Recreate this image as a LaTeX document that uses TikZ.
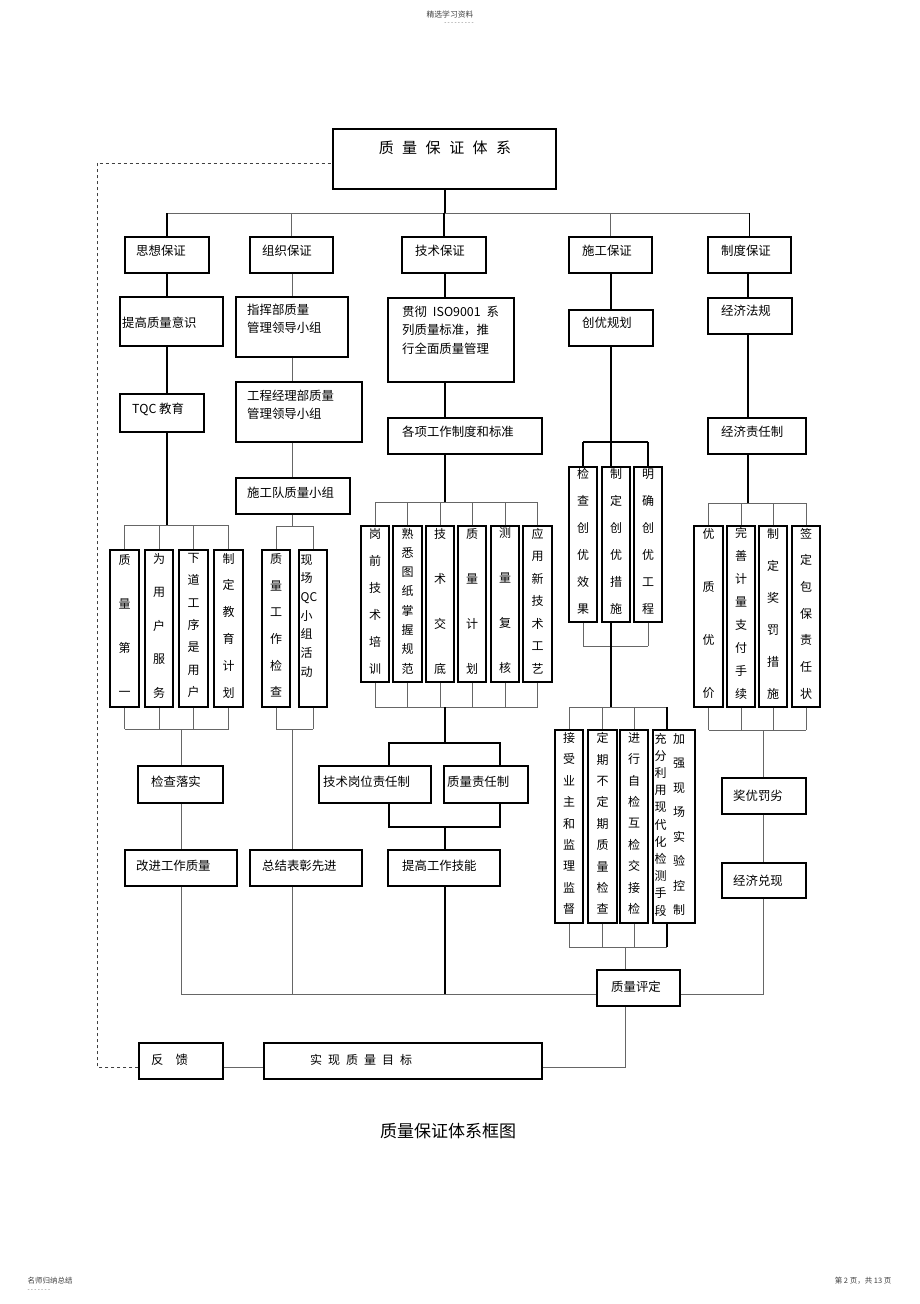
\documentclass[tikz,border=0pt]{standalone}
\usepackage{fontspec}
\setmainfont{Noto Sans CJK SC}
\newcommand\hnode[8]{%
  \node[box,minimum width={#4-#2},minimum height={#5-#3}] (#1) at ({(#2+#4)/2},{(#3+#5)/2}) {};
  \node[txt] (#1-t) at (#6,#7) {#8};}
\newcommand\vnode[7]{%
  \node[box,minimum width={#4-#2},minimum height={#5-#3}] (#1) at ({(#2+#4)/2},{(#3+#5)/2}) {};
  \node[vtxt,font=\fontsize{12}{#6}\selectfont] (#1-t) at ({(#2+#4)/2},{(#3+#5)/2-3}) {#7};}
\newcommand\gap[1]{\hspace{#1pt}}

\begin{document}
\begin{tikzpicture}[x=1pt,y=-1pt,
  box/.style={draw,line width=1.1pt,inner sep=0pt},
  txt/.style={anchor=west,inner sep=0pt,align=left,font=\fontsize{12.4}{18.5}\selectfont},
  vtxt/.style={inner sep=0pt,align=center},
  link/.style={draw=black!60,line width=1pt},
  trunk/.style={draw=black,line width=1.6pt},
  fbk/.style={dashed,line width=0.8pt,draw=black!75}]
\fill[white] (0,0) rectangle (920,1304);

\node[font=\fontsize{7.8}{9}\selectfont,text=black!75] (hd) at (450,15) {精选学习资料};
\node[font=\fontsize{6}{7}\selectfont,text=black!60] (hd-d) at (459,24) {- - - - - - - - -};
\node[font=\fontsize{7.5}{9}\selectfont,text=black!75,anchor=west] (ft1) at (24,1281) {名师归纳总结};
\node[font=\fontsize{6}{7}\selectfont,text=black!60,anchor=west] (ft1-d) at (24,1291) {- - - - - - -};
\node[font=\fontsize{7.5}{9}\selectfont,text=black!75,anchor=east] (ft2) at (895,1281) {第 2 页，共 13 页};

\node[box,minimum width=223,minimum height=60] (sys) at (444.5,159) {};
\node[font=\fontsize{15}{18}\selectfont] (sys-t) at (445,148) {质\gap{8.5}量\gap{8.5}保\gap{8.5}证\gap{8.5}体\gap{8.5}系};

\hnode{sx}{125}{237}{209}{273}{136}{251}{思想保证}
\hnode{zz}{250}{237}{333}{273}{262}{251}{组织保证}
\hnode{js}{402}{237}{486}{273}{415}{251}{技术保证}
\hnode{sg}{569}{237}{652}{273}{582}{251}{施工保证}
\hnode{zd}{708}{237}{791}{273}{721}{251}{制度保证}

\hnode{tg}{120}{297}{223}{346}{122}{323}{提高质量意识}
\hnode{tqc}{120}{394}{204}{432}{132}{409}{TQC 教育}
\vnode{q1}{110}{550}{139}{707}{44}{质\\量\\第\\一}
\vnode{q2}{145}{550}{173}{707}{33.5}{为\\用\\户\\服\\务}
\vnode{q3}{179}{550}{208}{707}{22.3}{下\\道\\工\\序\\是\\用\\户}
\vnode{q4}{214}{550}{243}{707}{26.8}{制\\定\\教\\育\\计\\划}
\hnode{jc}{138}{766}{223}{803}{151}{782}{检查落实}
\hnode{gj}{125}{850}{237}{886}{136}{866}{改进工作质量}

\hnode{zh}{236}{297}{348}{357}{247}{319}{指挥部质量\\管理领导小组}
\hnode{gc}{236}{382}{362}{442}{247}{405}{工程经理部质量\\管理领导小组}
\hnode{sd}{236}{478}{350}{514}{247}{493}{施工队质量小组}
\vnode{r1}{262}{550}{290}{707}{26.6}{质\\量\\工\\作\\检\\查}
\node[box,minimum width=28,minimum height=157] (r2) at (313,628.5) {};
\node[txt,font=\fontsize{12}{18.7}\selectfont] (r2-t) at (300.5,616) {现\\场\\QC\\小\\组\\活\\动};
\hnode{zj}{250}{850}{362}{886}{262}{866}{总结表彰先进}

\hnode{iso}{388}{298}{514}{382}{402}{330}{贯彻\gap{6}ISO9001\gap{6}系\\列质量标准，推\\行全面质量管理}
\hnode{gx}{388}{418}{542}{454}{402}{432}{各项工作制度和标准}
\vnode{s1}{361}{526}{389}{682}{27}{岗\\前\\技\\术\\培\\训}
\vnode{s2}{393}{526}{422}{682}{19.3}{熟\\悉\\图\\纸\\掌\\握\\规\\范}
\vnode{s3}{426}{526}{454}{682}{45}{技\\术\\交\\底}
\vnode{s4}{458}{526}{486}{682}{45}{质\\量\\计\\划}
\vnode{s5}{491}{526}{519}{682}{45}{测\\量\\复\\核}
\vnode{s6}{523}{526}{552}{682}{22.5}{应\\用\\新\\技\\术\\工\\艺}
\hnode{jg}{319}{766}{431}{803}{323}{782}{技术岗位责任制}
\hnode{zr}{444}{766}{528}{803}{447}{782}{质量责任制}
\hnode{tj}{388}{850}{500}{886}{402}{866}{提高工作技能}

\hnode{cy}{569}{310}{653}{346}{582}{323}{创优规划}
\vnode{t1}{569}{467}{597}{622}{27}{检\\查\\创\\优\\效\\果}
\vnode{t2}{602}{467}{630}{622}{27}{制\\定\\创\\优\\措\\施}
\vnode{t3}{634}{467}{662}{622}{27}{明\\确\\创\\优\\工\\程}
\vnode{u1}{555}{730}{583}{923}{21.4}{接\\受\\业\\主\\和\\监\\理\\监\\督}
\vnode{u2}{588}{730}{617}{923}{21.4}{定\\期\\不\\定\\期\\质\\量\\检\\查}
\vnode{u3}{620}{730}{648}{923}{21.4}{进\\行\\自\\检\\互\\检\\交\\接\\检}
\node[box,minimum width=42,minimum height=193] (u4) at (674,826.5) {};
\node[vtxt,font=\fontsize{12}{17.2}\selectfont] (u4-l) at (660.5,824.5) {充\\分\\利\\用\\现\\代\\化\\检\\测\\手\\段};
\node[vtxt,font=\fontsize{12}{24.5}\selectfont] (u4-r) at (679,824.5) {加\\强\\现\\场\\实\\验\\控\\制};
\hnode{pd}{597}{970}{680}{1006}{611}{987}{质量评定}

\hnode{jf}{708}{298}{792}{334}{721}{311}{经济法规}
\hnode{jz}{708}{418}{806}{454}{721}{432}{经济责任制}
\vnode{v1}{694}{526}{723}{707}{53.3}{优\\质\\优\\价}
\vnode{v2}{727}{526}{755}{707}{22.9}{完\\善\\计\\量\\支\\付\\手\\续}
\vnode{v3}{759}{526}{787}{707}{32}{制\\定\\奖\\罚\\措\\施}
\vnode{v4}{792}{526}{820}{707}{26.7}{签\\定\\包\\保\\责\\任\\状}
\hnode{jy}{722}{778}{806}{814}{733}{796}{奖优罚劣}
\hnode{jd}{722}{863}{806}{898}{733}{881}{经济兑现}

\hnode{fk}{139}{1043}{223}{1079}{151}{1060}{反\gap{12}馈}
\hnode{mb}{264}{1043}{542}{1079}{310}{1060}{\fontsize{12}{14}\selectfont 实\gap{6}现\gap{6}质\gap{6}量\gap{6}目\gap{6}标}
\node[font=\fontsize{17}{20}\selectfont] (cap) at (448,1131) {质量保证体系框图};

\coordinate (b0) at (445,213);
\draw[trunk] (b0 |- sys.south) -- (b0);
\draw[link] (sx.north |- b0) -- (zd.north |- b0);
\foreach \n/\s in {sx/trunk,zz/link,js/trunk,sg/link,zd/trunk}
  \draw[\s] (\n.north) -- (\n.north |- b0);
\coordinate (e0) at ([yshift=-6pt]pd.west);
\coordinate (e1) at ([yshift=-6pt]pd.east);

\coordinate (c1) at (167,525);
\coordinate (d1) at (181,729);
\draw[trunk] (c1 |- sx.south) -- (c1 |- tg.north);
\draw[trunk] (c1 |- tg.south) -- (c1 |- tqc.north);
\draw[trunk] (c1 |- tqc.south) -- (c1);
\draw[link] (q1.north |- c1) -- (q4.north |- c1);
\draw[link] (q1.south |- d1) -- (q4.south |- d1);
\foreach \n in {q1,q2,q3,q4}
{ \draw[link] (\n.north) -- (\n.north |- c1);
  \draw[link] (\n.south) -- (\n.south |- d1);}
\draw[link] (d1) -- (d1 |- jc.north);
\draw[link] (d1 |- jc.south) -- (d1 |- gj.north);
\draw[link] (d1 |- gj.south) |- (e0);

\coordinate (c2) at (292,526);
\coordinate (d2) at (292,729);
\draw[link] (c2 |- zz.south) -- (c2 |- zh.north);
\draw[link] (c2 |- zh.south) -- (c2 |- gc.north);
\draw[link] (c2 |- gc.south) -- (c2 |- sd.north);
\draw[link] (c2 |- sd.south) -- (c2);
\draw[link] (r1.north |- c2) -- (r2.north |- c2);
\draw[link] (r1.south |- d2) -- (r2.south |- d2);
\foreach \n in {r1,r2}
{ \draw[link] (\n.north) -- (\n.north |- c2);
  \draw[link] (\n.south) -- (\n.south |- d2);}
\draw[link] (d2) -- (d2 |- zj.north);
\draw[link] (d2 |- zj.south) -- (d2 |- e0);

\coordinate (c3) at (445,502);
\coordinate (d3) at (445,707);
\coordinate (f3l) at (389,743);
\coordinate (f3r) at (500,743);
\coordinate (g3l) at (389,827);
\coordinate (g3r) at (500,827);
\draw[trunk] (c3 |- js.south) -- (c3 |- iso.north);
\draw[trunk] (c3 |- iso.south) -- (c3 |- gx.north);
\draw[trunk] (c3 |- gx.south) -- (c3);
\draw[link] (s1.north |- c3) -- (s6.north |- c3);
\draw[link] (s1.south |- d3) -- (s6.south |- d3);
\foreach \n in {s1,s2,s3,s4,s5,s6}
{ \draw[link] (\n.north) -- (\n.north |- c3);
  \draw[link] (\n.south) -- (\n.south |- d3);}
\draw[trunk] (d3) -- (d3 |- f3l);
\draw[trunk] (f3l |- jg.north) -- (f3l) -- (f3r) -- (f3r |- zr.north);
\draw[trunk] (f3l |- jg.south) -- (g3l) -- (g3r) -- (f3r |- zr.south);
\draw[trunk] (d3 |- g3l) -- (d3 |- tj.north);
\draw[trunk] (d3 |- tj.south) -- (d3 |- e0);

\coordinate (c4) at (611,442);
\coordinate (d4) at (611,646);
\coordinate (h4) at (611,707);
\coordinate (h4r) at (667,707);
\coordinate (k4) at (625,947);
\coordinate (k4r) at (667,947);
\draw[trunk] (c4 |- sg.south) -- (c4 |- cy.north);
\draw[trunk] (c4 |- cy.south) -- (c4);
\draw[trunk] (t1.north |- c4) -- (t3.north |- c4);
\draw[trunk] (t1.north) -- (t1.north |- c4);
\draw[trunk] (t3.north) -- (t3.north |- c4);
\draw[trunk] (c4) -- (c4 |- t2.north);
\draw[link] (t1.south |- d4) -- (t3.south |- d4);
\draw[link] (t1.south) -- (t1.south |- d4);
\draw[link] (t3.south) -- (t3.south |- d4);
\draw[trunk] (c4 |- t2.south) -- (h4);
\draw[link] (u1.north |- h4) -- (h4r);
\draw[link] (u1.south |- k4) -- (k4r);
\foreach \n in {u1,u2,u3}
{ \draw[link] (\n.north) -- (\n.north |- h4);
  \draw[link] (\n.south) -- (\n.south |- k4);}
\draw[trunk] (h4r) -- (h4r |- u4.north);
\draw[trunk] (h4r |- u4.south) -- (k4r);
\draw[link] (k4) -- (k4 |- pd.north);
\draw[link] (k4 |- pd.south) |- ([yshift=-6pt]mb.east);

\coordinate (c5) at (748,503);
\coordinate (d5) at (763,730);
\draw[trunk] (c5 |- zd.south) -- (c5 |- jf.north);
\draw[trunk] (c5 |- jf.south) -- (c5 |- jz.north);
\draw[trunk] (c5 |- jz.south) -- (c5);
\draw[link] (v1.north |- c5) -- (v4.north |- c5);
\draw[link] (v1.south |- d5) -- (v4.south |- d5);
\foreach \n in {v1,v2,v3,v4}
{ \draw[link] (\n.north) -- (\n.north |- c5);
  \draw[link] (\n.south) -- (\n.south |- d5);}
\draw[link] (d5) -- (d5 |- jy.north);
\draw[link] (d5 |- jy.south) -- (d5 |- jd.north);
\draw[link] (d5 |- jd.south) |- (e1);

\coordinate (fb) at (97,163);
\draw[link] ([yshift=-6pt]fk.east) -- ([yshift=-6pt]mb.west);
\draw[fbk] ([yshift=-6pt]fk.west) -| (fb) -- (fb -| sys.west);
\end{tikzpicture}
\end{document}
